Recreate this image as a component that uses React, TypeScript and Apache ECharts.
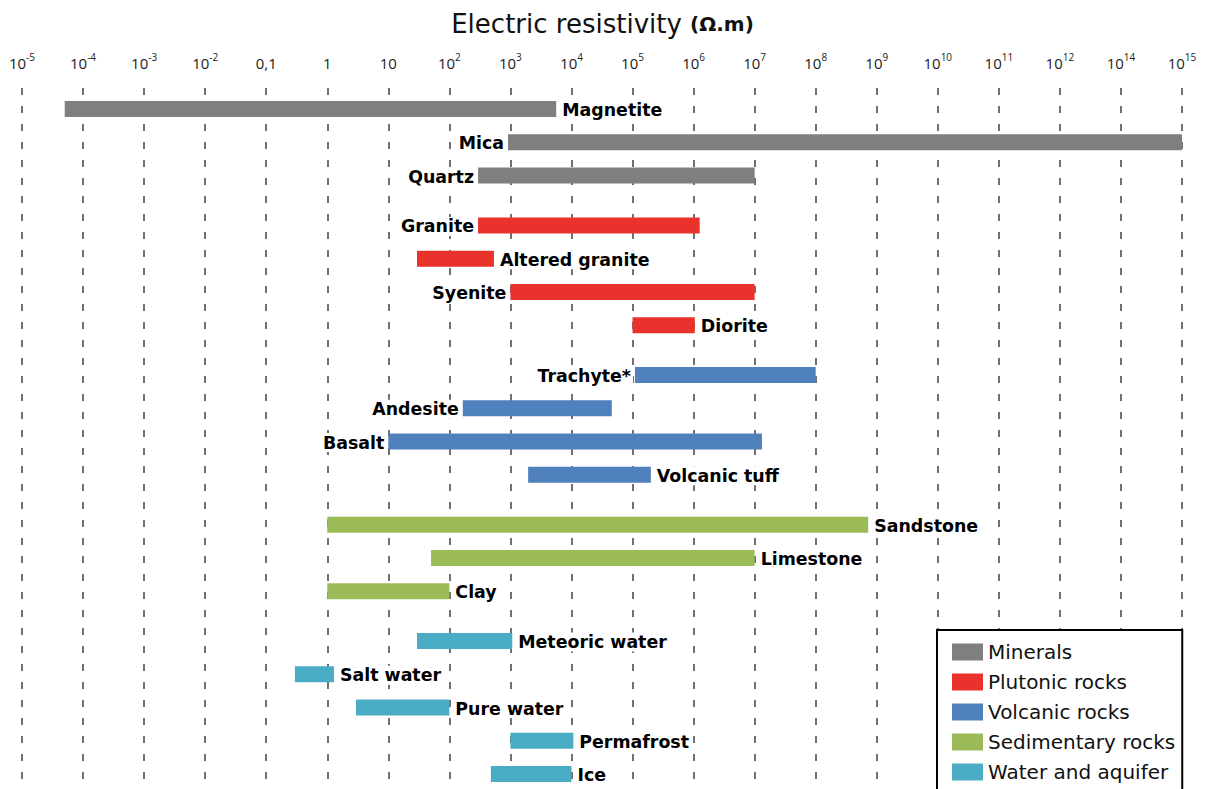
import React, { useEffect, useRef } from "react";
import * as echarts from "echarts";

// Axis ticks (log10 of resistivity in ohm.m); note the axis skips 10^13
const tickExponents = [-5, -4, -3, -2, -1, 0, 1, 2, 3, 4, 5, 6, 7, 8, 9, 10, 11, 12, 14, 15];
const tickLabels = ["10^-5", "10^-4", "10^-3", "10^-2", "0,1", "1", "10", "10^2", "10^3", "10^4", "10^5", "10^6", "10^7", "10^8", "10^9", "10^10", "10^11", "10^12", "10^14", "10^15"];

const groups = ["Minerals", "Plutonic rocks", "Volcanic rocks", "Sedimentary rocks", "Water and aquifer"];
const groupColors = ["#7f7f7f", "#e8322b", "#4f81bd", "#9bbb59", "#4bacc6"];

const rockNames = [
  "Magnetite", "Mica", "Quartz",
  "Granite", "Altered granite", "Syenite", "Diorite",
  "Trachyte*", "Andesite", "Basalt", "Volcanic tuff",
  "Sandstone", "Limestone", "Clay",
  "Meteoric water", "Salt water", "Pure water", "Permafrost", "Ice",
];
const rockGroup = [0, 0, 0, 1, 1, 1, 1, 2, 2, 2, 2, 3, 3, 3, 4, 4, 4, 4, 4];
// log10 of low / high resistivity
const lowExp = [-4.3, 2.96, 2.47, 2.47, 1.47, 3.0, 5.0, 5.04, 2.22, 1.0, 3.29, 0.0, 1.7, 0.0, 1.47, -0.53, 0.47, 3.0, 2.68];
const highExp = [3.75, 15, 7.0, 6.1, 2.73, 7.0, 6.02, 8.0, 4.66, 7.12, 5.3, 8.86, 7.0, 2.0, 3.03, 0.11, 2.0, 4.03, 4.0];
const labelSide = ["right", "left", "left", "left", "right", "left", "right", "left", "left", "left", "right", "right", "right", "right", "right", "right", "right", "right", "right"];

// map a log10 value to the axis position (index of tick)
function toPos(e: number): number {
  for (let i = 0; i < tickExponents.length - 1; i++) {
    const a = tickExponents[i];
    const b = tickExponents[i + 1];
    if (e <= b || i === tickExponents.length - 2) {
      return i + (e - a) / (b - a);
    }
  }
  return 0;
}

function fmtTick(v: number): string {
  const lab = tickLabels[Math.round(v)];
  if (lab === undefined) return "";
  const parts = lab.split("^");
  if (parts.length === 2) return `{b|${parts[0]}}{s|${parts[1]}}`;
  return `{b|${lab}}`;
}

export default function App() {
  const ref = useRef<HTMLDivElement>(null);
  useEffect(() => {
    if (!ref.current) return;
    const chart = echarts.init(ref.current, undefined, { renderer: "svg" });
    const W = 1205;
    const gridTop = 88;
    const rowPx = 33.25;
    const row0Y = 109;
    const H = 789;
    const yMin = (gridTop - row0Y) / rowPx;
    const yMax = (H - row0Y) / rowPx;

    const series = groups.map((g, gi) => {
      const data: number[][] = [];
      rockNames.forEach((n, i) => {
        if (rockGroup[i] === gi) {
          data.push([toPos(lowExp[i]), toPos(highExp[i]), i + 0.5 * rockGroup[i], i]);
        }
      });
      return {
        type: "custom",
        name: g,
        itemStyle: { color: groupColors[gi] },
        data,
        encode: { x: [0, 1], y: 2 },
        renderItem: (params: any, api: any) => {
          const s = api.coord([api.value(0), api.value(2)]);
          const e = api.coord([api.value(1), api.value(2)]);
          const h = 16;
          const idx = api.value(3);
          const right = labelSide[idx] === "right";
          return {
            type: "group",
            children: [
              {
                type: "rect",
                shape: { x: s[0], y: s[1] - h / 2, width: e[0] - s[0], height: h },
                style: { fill: groupColors[gi] },
              },
              {
                type: "text",
                x: right ? e[0] + 4 : s[0] - 2,
                y: s[1] + 1,
                style: {
                  text: rockNames[idx],
                  fill: "#000",
                  fontSize: 17.4,
                  fontWeight: "bold",
                  fontFamily: "DejaVu Sans",
                  align: right ? "left" : "right",
                  verticalAlign: "middle",
                  backgroundColor: "#fff",
                  padding: [1, 2, 1, 2],
                },
              },
            ],
          };
        },
      };
    });

    chart.setOption({
      animation: false,
      backgroundColor: "#fff",
      title: {
        text: "{a|Electric resistivity }{b|(Ω.m)}",
        left: "center",
        top: 6,
        textStyle: {
          fontWeight: "normal",
          rich: {
            a: { fontSize: 26, fontWeight: "normal", fontFamily: "DejaVu Sans", color: "#111" },
            b: { fontSize: 20, fontWeight: "bold", fontFamily: "DejaVu Sans", color: "#111" },
          },
        },
      },
      grid: { left: 22, right: W - 1182, top: gridTop, bottom: 0 },
      xAxis: {
        type: "value",
        position: "top",
        min: 0,
        max: tickLabels.length - 1,
        interval: 1,
        axisLine: { show: false },
        axisTick: { show: false },
        axisLabel: {
          margin: 18,
          formatter: fmtTick,
          rich: {
            b: { fontSize: 15, fontFamily: "Open Sans", color: "#222", lineHeight: 18, verticalAlign: "bottom" },
            s: { fontSize: 10, fontFamily: "Open Sans", color: "#222", lineHeight: 18, verticalAlign: "top" },
          },
        },
        splitLine: {
          show: true,
          lineStyle: { color: "#707070", width: 2, type: [7, 11] },
        },
      },
      yAxis: {
        type: "value",
        inverse: true,
        min: yMin,
        max: yMax,
        show: false,
        splitLine: { show: false },
      },
      legend: {
        orient: "vertical",
        left: 937,
        top: 630,
        height: 260,
        icon: "rect",
        itemWidth: 31,
        itemHeight: 17,
        itemGap: 10,
        padding: [12, 7, 30, 15],
        backgroundColor: "#fff",
        borderColor: "#000",
        borderWidth: 2,
        borderRadius: 0,
        selectedMode: false,
        textStyle: { fontSize: 20, lineHeight: 20, fontFamily: "DejaVu Sans", color: "#111" },
        data: groups,
      },
      series,
    });
    return () => chart.dispose();
  }, []);
  return (
    <div
      ref={ref}
      style={{ position: "absolute", left: 0, top: 0, width: 1205, height: 789 }}
    />
  );
}
